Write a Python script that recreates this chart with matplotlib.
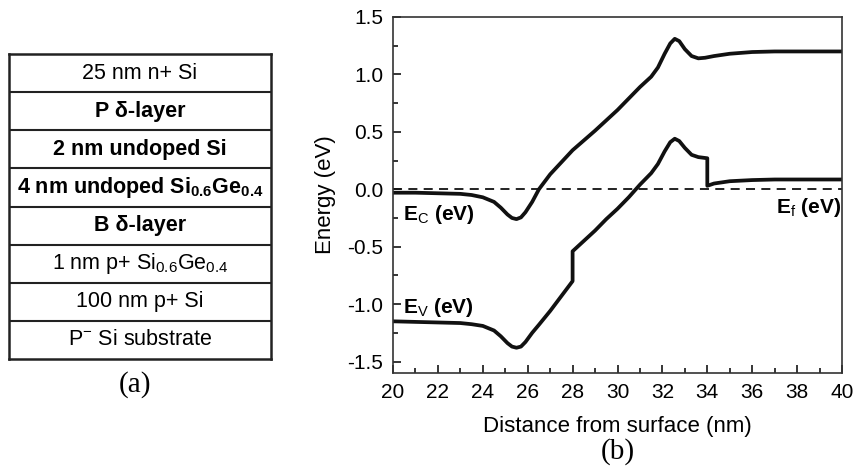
import matplotlib
matplotlib.use("Agg")
import matplotlib.pyplot as plt
from matplotlib.ticker import MultipleLocator

plt.rcParams['font.family'] = ['Liberation Sans', 'DejaVu Sans']
plt.rcParams['mathtext.fontset'] = 'custom'
plt.rcParams['mathtext.rm'] = 'Liberation Sans'
plt.rcParams['mathtext.bf'] = 'Liberation Sans:bold'

# layer stack, top to bottom (text, bold?)
layers = [
    ('25 nm n+ Si', False),
    ('P \u03b4-layer', True),
    ('2 nm undoped Si', True),
    (r'4 nm undoped Si$_{\mathbf{0.6}}$Ge$_{\mathbf{0.4}}$', True),
    ('B \u03b4-layer', True),
    (r'1 nm p+ Si$_{\mathrm{0.6}}$Ge$_{\mathrm{0.4}}$', False),
    ('100 nm p+ Si', False),
    (r'P$^{\mathrm{-}}$ Si substrate', False),
]

# conduction band edge
ec_x = [20, 21, 22, 23, 23.5, 24, 24.5, 24.8, 25.1, 25.3, 25.5, 25.7, 25.9,
        26.2, 26.5, 27, 28, 29, 30, 31, 31.5, 31.8, 32.1, 32.35, 32.55, 32.75,
        33.0, 33.3, 33.6, 33.9, 34.3, 35, 36, 37, 38, 40]
ec_y = [-0.03, -0.03, -0.035, -0.04, -0.05, -0.07, -0.11, -0.16, -0.22, -0.25,
        -0.26, -0.245, -0.20, -0.11, 0.0, 0.13, 0.34, 0.51, 0.69, 0.89, 0.98,
        1.06, 1.18, 1.27, 1.31, 1.29, 1.22, 1.16, 1.14, 1.145, 1.16, 1.18,
        1.195, 1.2, 1.2, 1.2]

# valence band edge
ev_x = [20, 21, 22, 23, 23.5, 24, 24.5, 24.8, 25.1, 25.3, 25.5, 25.7, 25.9,
        26.2, 26.5, 27, 27.5, 28, 28, 28.5, 29, 29.5, 30, 30.5, 31, 31.5, 31.8,
        32.1, 32.35, 32.55, 32.75, 33.0, 33.3, 33.6, 34.0, 34.0, 34.3, 35, 36,
        37, 38, 40]
ev_y = [-1.15, -1.155, -1.16, -1.165, -1.175, -1.19, -1.23, -1.28, -1.34,
        -1.37, -1.38, -1.37, -1.33, -1.25, -1.18, -1.06, -0.93, -0.80, -0.54,
        -0.45, -0.36, -0.26, -0.17, -0.07, 0.04, 0.14, 0.22, 0.33, 0.41, 0.44,
        0.42, 0.36, 0.30, 0.28, 0.27, 0.03, 0.05, 0.07, 0.08, 0.085, 0.085,
        0.085]

fermi = 0.0

fig = plt.figure(figsize=(8.54, 4.71), dpi=100)

# (a) layer stack
ta = fig.add_axes([9 / 854, 1 - 359 / 471, 262 / 854, 305 / 471])
n = len(layers)
ta.set_xlim(0, 1)
ta.set_ylim(0, n)
for i, (txt, bold) in enumerate(layers):
    yc = n - i - 0.5
    ta.text(0.5, yc, txt, ha='center', va='center', fontsize=15.5,
            fontweight='bold' if bold else 'normal')
    if i > 0:
        ta.axhline(n - i, color='#222222', lw=1.5)
ta.set_xticks([])
ta.set_yticks([])
for s in ta.spines.values():
    s.set_linewidth(1.8)
    s.set_color('#222222')

fig.text(135 / 854, 1 - 385 / 471, '(a)', ha='center', va='center',
         fontsize=21, family='Liberation Serif')

# (b) band diagram
ax = fig.add_axes([393 / 854, 1 - 373 / 471, 449 / 854, 356 / 471])
ax.plot(ec_x, ec_y, color='#111111', lw=2.7)
ax.plot(ev_x, ev_y, color='#111111', lw=2.7)
ax.axhline(fermi, color='#111111', lw=1.3, ls=(0, (5, 3.5)))

ax.set_xlim(20, 40)
ax.set_ylim(-1.6, 1.5)
ax.xaxis.set_major_locator(MultipleLocator(2))
ax.xaxis.set_minor_locator(MultipleLocator(1))
ax.yaxis.set_major_locator(MultipleLocator(0.5))
ax.yaxis.set_minor_locator(MultipleLocator(0.25))
ax.tick_params(which='both', direction='in', labelsize=15, width=1.1)
ax.tick_params(which='major', length=6, pad=7)
ax.tick_params(which='minor', length=3.5)
ax.set_yticks([-1.5, -1.0, -0.5, 0.0, 0.5, 1.0, 1.5])
ax.set_yticklabels(['-1.5', '-1.0', '-0.5', '0.0', '0.5', '1.0', '1.5'])
for s in ax.spines.values():
    s.set_linewidth(1.2)
    s.set_color('#333333')

ax.set_xlabel('Distance from surface (nm)', fontsize=16, labelpad=10)
ax.set_ylabel('Energy (eV)', fontsize=16, labelpad=8)

ax.text(20.45, -0.22, r'E$_{\mathrm{C}}$ (eV)', fontsize=15, fontweight='bold',
        ha='left', va='center')
ax.text(20.45, -1.03, r'E$_{\mathrm{V}}$ (eV)', fontsize=15, fontweight='bold',
        ha='left', va='center')
ax.text(39.95, -0.16, r'E$_{\mathrm{f}}$ (eV)', fontsize=15, fontweight='bold',
        ha='right', va='center')

fig.text(618 / 854, 1 - 452 / 471, '(b)', ha='center', va='center',
         fontsize=21, family='Liberation Serif')

fig.savefig('out.png', dpi=100)
